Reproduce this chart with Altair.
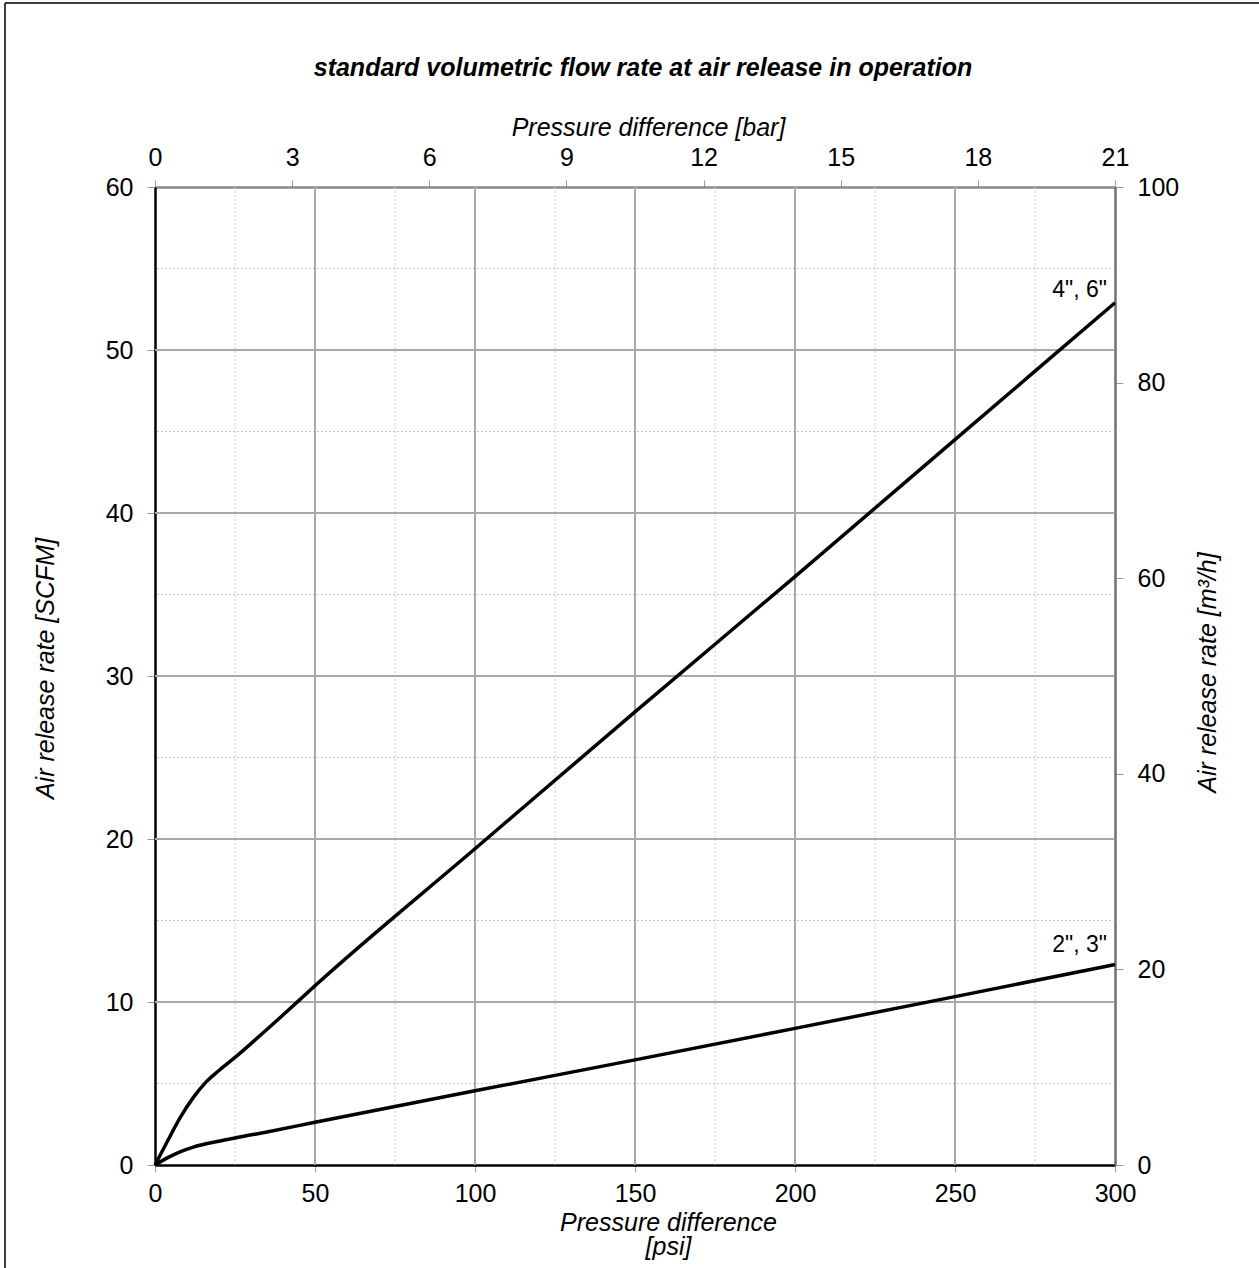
import altair as alt
import pandas as pd

# ---- data ----
psi_46 = [0, 4, 8, 12, 16, 20, 25, 30, 40, 50, 100, 150, 200, 250, 300]
scfm_46 = [0, 1.5, 2.95, 4.15, 5.1, 5.8, 6.6, 7.45, 9.2, 11.0, 19.4, 27.8, 36.1, 44.5, 52.9]
psi_23 = [0, 4, 8, 12, 16, 20, 25, 35, 50, 100, 150, 200, 250, 300]
scfm_23 = [0, 0.45, 0.82, 1.1, 1.3, 1.46, 1.66, 2.03, 2.62, 4.55, 6.45, 8.38, 10.33, 12.3]
series_names = ['4", 6"', '2", 3"']
label_psi = [300, 300]
label_scfm = [53.7, 13.5]

psi_ticks = [0, 50, 100, 150, 200, 250, 300]
scfm_ticks = [0, 10, 20, 30, 40, 50, 60]
bar_ticks = [0, 3, 6, 9, 12, 15, 18, 21]
m3h_ticks = [0, 20, 40, 60, 80, 100]
major_x = [50, 100, 150, 200, 250]
minor_x = [25, 75, 125, 175, 225, 275]
major_y = [10, 20, 30, 40, 50]
minor_y = [5, 15, 25, 35, 45, 55]

FONT = "Liberation Sans"
W, H = 960, 978
LBL = 25

xs = alt.Scale(domain=[0, 300], nice=False, zero=False)
ys = alt.Scale(domain=[0, 60], nice=False, zero=False)

lines_df = pd.DataFrame({
    "psi": psi_46 + psi_23,
    "scfm": scfm_46 + scfm_23,
    "series": [series_names[0]] * len(psi_46) + [series_names[1]] * len(psi_23),
})
labels_df = pd.DataFrame({"psi": label_psi, "scfm": label_scfm, "name": series_names})

minor_v = alt.Chart(pd.DataFrame({"v": minor_x})).mark_rule(
    color="#c8c8c8", strokeDash=[2, 2], strokeWidth=1
).encode(x=alt.X("v:Q", scale=xs, axis=None))
minor_h = alt.Chart(pd.DataFrame({"v": minor_y})).mark_rule(
    color="#c8c8c8", strokeDash=[2, 2], strokeWidth=1
).encode(y=alt.Y("v:Q", scale=ys, axis=None))
major_v = alt.Chart(pd.DataFrame({"v": major_x})).mark_rule(
    color="#a8a8a8", strokeWidth=2
).encode(x=alt.X("v:Q", scale=xs, axis=None))
major_h = alt.Chart(pd.DataFrame({"v": major_y})).mark_rule(
    color="#a8a8a8", strokeWidth=2
).encode(y=alt.Y("v:Q", scale=ys, axis=None))

common_title = dict(titleFont=FONT, titleFontSize=25, titleFontStyle="italic",
                    titleFontWeight="normal", titleColor="black")
common_lbl = dict(labelFontSize=LBL, labelColor="black", labelFont=FONT,
                  labelFlush=False, labelOverlap=False, labelBound=False)

curves = alt.Chart(lines_df).mark_line(
    color="black", strokeWidth=3.5, interpolate="monotone"
).encode(
    x=alt.X("psi:Q", scale=xs, axis=alt.Axis(
        orient="bottom", values=psi_ticks, grid=False,
        title=["Pressure difference", "[psi]"],
        domainColor="black", domainWidth=2.5,
        tickColor="#999999", tickSize=7, tickWidth=1,
        labelPadding=9, **common_lbl, **common_title,
        titleX=513, titleY=45, titleAlign="center",
        titleBaseline="top", titleLineHeight=24,
    )),
    y=alt.Y("scfm:Q", scale=ys, axis=alt.Axis(
        orient="left", values=scfm_ticks, grid=False,
        title="Air release rate [SCFM]",
        domainColor="black", domainWidth=2.5,
        tickColor="#999999", tickSize=8, tickWidth=1,
        labelPadding=14, **common_lbl, **common_title,
        titleAngle=270, titleX=-110, titleY=481,
        titleAlign="center", titleBaseline="middle",
    )),
    detail="series:N",
)

labels = alt.Chart(labels_df).mark_text(
    align="right", baseline="middle", dx=-8, fontSize=23, font=FONT, color="black"
).encode(
    x=alt.X("psi:Q", scale=xs, axis=None),
    y=alt.Y("scfm:Q", scale=ys, axis=None),
    text="name:N",
)

top_axis = alt.Chart(pd.DataFrame({"bar": bar_ticks})).mark_point(opacity=0).encode(
    x=alt.X("bar:Q", scale=alt.Scale(domain=[0, 21], nice=False, zero=False), axis=alt.Axis(
        orient="top", values=bar_ticks, grid=False,
        title="Pressure difference [bar]",
        domainColor="#888888", domainWidth=2.5,
        tickColor="#999999", tickSize=7, tickWidth=1,
        labelPadding=10, **common_lbl, **common_title,
        titleX=493, titleY=-60, titleAlign="center",
        titleBaseline="middle",
    )),
)

right_axis = alt.Chart(pd.DataFrame({"m3h": m3h_ticks})).mark_point(opacity=0).encode(
    y=alt.Y("m3h:Q", scale=alt.Scale(domain=[0, 100], nice=False, zero=False), axis=alt.Axis(
        orient="right", values=m3h_ticks, grid=False,
        title="Air release rate [m³/h]",
        domainColor="#707070", domainWidth=2.5,
        tickColor="#999999", tickSize=8, tickWidth=1,
        labelPadding=14, **common_lbl, **common_title,
        titleAngle=270, titleX=92, titleY=485,
        titleAlign="center", titleBaseline="middle",
    )),
)

border_left = alt.Chart(pd.DataFrame({"k": [0]})).mark_rule(color="black", strokeWidth=1.5).encode(
    x=alt.value(-150), y=alt.value(-184), y2=alt.value(1120)
)
border_top = alt.Chart(pd.DataFrame({"k": [0]})).mark_rule(color="black", strokeWidth=1.5).encode(
    y=alt.value(-184), x=alt.value(-150), x2=alt.value(1120)
)

chart = alt.layer(
    minor_v, minor_h, major_v, major_h, curves, labels, top_axis, right_axis,
    border_left, border_top,
).resolve_scale(x="independent", y="independent").properties(
    width=W, height=H,
    autosize=alt.AutoSizeParams(type="none"),
    padding={"left": 155, "top": 187, "right": 144, "bottom": 103},
    title=alt.TitleParams(
        text="standard volumetric flow rate at air release in operation",
        font=FONT, fontSize=25, fontWeight="bold", fontStyle="italic", color="black",
        anchor="middle", frame="group", dx=8, offset=0, dy=99, baseline="alphabetic",
    ),
).configure_view(stroke=None).configure(background="white")

chart.save("out.html", embed_options={"renderer": "svg", "actions": False})
